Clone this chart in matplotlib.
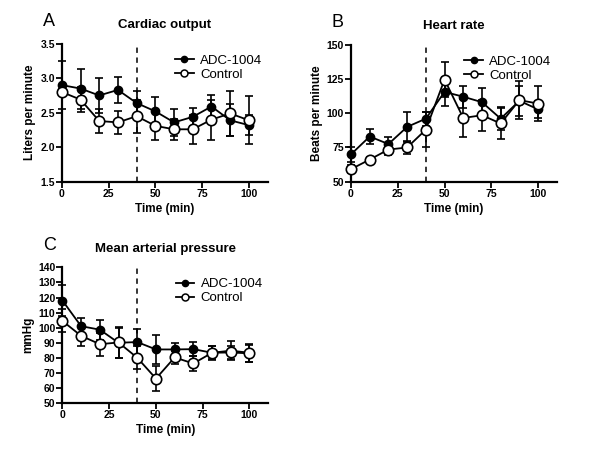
import numpy as np
import matplotlib
matplotlib.use('Agg')
import matplotlib.pyplot as plt
from matplotlib.lines import Line2D

plt.rcParams['font.family'] = ['Liberation Sans', 'DejaVu Sans']

# time points (min)
time = [0, 10, 20, 30, 40, 50, 60, 70, 80, 90, 100]

# A: cardiac output (L/min)
co_adc = [2.90, 2.85, 2.75, 2.83, 2.64, 2.52, 2.36, 2.44, 2.59, 2.39, 2.32]
co_adc_err = [0.35, 0.29, 0.25, 0.19, 0.17, 0.21, 0.20, 0.13, 0.16, 0.23, 0.14]
co_ctl = [2.80, 2.69, 2.38, 2.36, 2.45, 2.31, 2.26, 2.26, 2.40, 2.49, 2.39]
co_ctl_err = [0.05, 0.18, 0.17, 0.17, 0.24, 0.21, 0.15, 0.21, 0.29, 0.32, 0.35]

# B: heart rate (bpm)
hr_adc = [70, 83, 77.5, 90, 96, 115.5, 112, 108, 96, 109, 102.8]
hr_adc_err = [5.5, 5.5, 5, 11, 5, 10.5, 8, 10, 8.5, 11, 6]
hr_ctl = [59.2, 66.2, 73.5, 75, 88, 124.5, 96.5, 98.5, 92.5, 109.5, 107]
hr_ctl_err = [3, 2, 4, 4.5, 12.7, 12.5, 13.8, 11.4, 11.6, 14, 12.6]

# C: mean arterial pressure (mmHg)
map_adc = [118, 101, 98.7, 90, 90.5, 85.6, 85.6, 85.8, 83.4, 84.8, 83.4]
map_adc_err = [10.5, 5.5, 6.6, 10, 8.5, 9.5, 4.4, 4.6, 4.4, 6.5, 6]
map_ctl = [104.5, 94.6, 89.1, 90.2, 80.1, 66.3, 80.3, 76.3, 83.4, 83.6, 83]
map_ctl_err = [7.6, 6.8, 7.7, 10, 7.7, 8.5, 4.4, 4.8, 4.5, 4, 5.5]

x_ticks = [0, 25, 50, 75, 100]
drug_time = 40


def panel(ax, adc, adc_err, ctl, ctl_err, letter, title, ylabel, yticks, fmt):
    ax.errorbar(time, adc, yerr=adc_err, color='black', lw=1.3, marker='o',
                ms=6, mfc='black', mec='black', capsize=3, elinewidth=1.2,
                capthick=1.2, clip_on=False, zorder=3)
    ax.errorbar(time, ctl, yerr=ctl_err, color='black', lw=1.3, marker='o',
                ms=7.5, mfc='white', mec='black', mew=1.2, capsize=3, elinewidth=1.2,
                capthick=1.2, clip_on=False, zorder=4)
    ax.axvline(drug_time, color='black', ls=(0, (3.5, 3)), lw=1.1, zorder=1)
    ax.set_xlim(0, 110)
    ax.set_ylim(yticks[0], yticks[-1])
    ax.set_xticks(x_ticks)
    ax.set_yticks(yticks)
    ax.set_yticklabels([fmt % v for v in yticks])
    for lab in ax.get_xticklabels() + ax.get_yticklabels():
        lab.set_fontweight('bold')
    ax.tick_params(labelsize=7.5, width=1.3, length=4, direction='out', pad=1)
    for s in ['top', 'right']:
        ax.spines[s].set_visible(False)
    for s in ['left', 'bottom']:
        ax.spines[s].set_linewidth(1.6)
    ax.set_xlabel('Time (min)', fontsize=8.5, fontweight='bold', labelpad=3)
    ax.set_ylabel(ylabel, fontsize=8.5, fontweight='bold', labelpad=3)
    ax.set_title(title, fontsize=9.5, fontweight='bold', pad=11)
    ax.text(-0.093, 1.1, letter, transform=ax.transAxes, fontsize=13,
            ha='left', va='bottom')
    handles = [Line2D([], [], color='black', lw=1.3, marker='o', ms=4.5,
                      mfc='black', mec='black'),
               Line2D([], [], color='black', lw=1.3, marker='o', ms=5,
                      mfc='white', mec='black', mew=1.1)]
    ax.legend(handles, ['ADC-1004', 'Control'], loc='upper right', frameon=False,
              fontsize=9.5, handlelength=1.4, handletextpad=0.5, labelspacing=0.15,
              borderaxespad=0, bbox_to_anchor=(1.0, 0.96))


fig = plt.figure(figsize=(6, 4.5), dpi=100)
axA = fig.add_axes([0.103, 0.596, 0.343, 0.307])
axB = fig.add_axes([0.585, 0.596, 0.343, 0.305])
axC = fig.add_axes([0.104, 0.104, 0.343, 0.302])

panel(axA, co_adc, co_adc_err, co_ctl, co_ctl_err, 'A', 'Cardiac output',
      'Liters per minute', [1.5, 2.0, 2.5, 3.0, 3.5], '%.1f')
panel(axB, hr_adc, hr_adc_err, hr_ctl, hr_ctl_err, 'B', 'Heart rate',
      'Beats per minute', [50, 75, 100, 125, 150], '%d')
panel(axC, map_adc, map_adc_err, map_ctl, map_ctl_err, 'C', 'Mean arterial pressure',
      'mmHg', list(range(50, 141, 10)), '%d')

plt.savefig('out.png', dpi=100)
